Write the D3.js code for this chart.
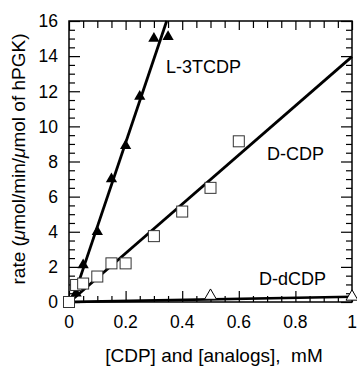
<!DOCTYPE html>
<html><head><meta charset="utf-8">
<script src="https://cdn.jsdelivr.net/npm/d3@7"></script>
<style>
html,body{margin:0;padding:0;background:#fff;}
text{font-family:"Liberation Sans",Arial,Helvetica,sans-serif;fill:#000;}
</style></head>
<body>
<svg id="c" width="357" height="367"></svg>
<script>
// ---- data ----
const l3tcdpX = [0.025, 0.05, 0.1, 0.15, 0.2, 0.25, 0.3, 0.35];
const l3tcdpY = [0.5, 2.1, 4.0, 7.0, 8.9, 11.7, 15.0, 15.1];
const dcdpX = [0, 0.025, 0.05, 0.1, 0.15, 0.2, 0.3, 0.4, 0.5, 0.6];
const dcdpY = [0, 0.97, 1.05, 1.45, 2.2, 2.2, 3.75, 5.15, 6.5, 9.15];
const ddcdpX = [0.5, 1.0];
const ddcdpY = [0.35, 0.3];
// linear fits: [slope, intercept, xStart]
const fitL = [47.8, -0.5, 0.01];
const fitD = [14.0, -0.03, 0.005];
const fitDD = [0.3, 0.0, 0.02];
const xTicks = [0, 0.2, 0.4, 0.6, 0.8, 1];
const xTickLabels = ["0", "0.2", "0.4", "0.6", "0.8", "1"];
const yTicks = [0, 2, 4, 6, 8, 10, 12, 14, 16];
const yTickLabels = ["0", "2", "4", "6", "8", "10", "12", "14", "16"];
const seriesLabels = ["L-3TCDP", "D-CDP", "D-dCDP"];

const svg = d3.select("#c");
const x = d3.scaleLinear().domain([0, 1]).range([69, 352]);
const y = d3.scaleLinear().domain([0, 16]).range([302, 21]);

// minor ticks
const xMinor = d3.range(0, 1.0001, 0.05).filter(v => Math.abs(v*5 - Math.round(v*5)) > 1e-6);
const yMinor = d3.range(0, 16.0001, 0.5).filter(v => Math.abs(v/2 - Math.round(v/2)) > 1e-6);

const g = svg.append("g");
// axes (inward ticks, mirrored)
function addAxis(axis, tr) {
  const a = g.append("g").attr("transform", tr).call(axis);
  a.selectAll("path").remove();
  a.selectAll("line").attr("stroke", "#000").attr("stroke-width", 1.2);
  return a;
}
addAxis(d3.axisBottom(x).tickValues(xTicks).tickSize(-11).tickFormat(""), `translate(0,${y(0)})`);
addAxis(d3.axisBottom(x).tickValues(xMinor).tickSize(-6).tickFormat(""), `translate(0,${y(0)})`);
addAxis(d3.axisTop(x).tickValues(xTicks).tickSize(-9).tickFormat(""), `translate(0,${y(16)})`);
addAxis(d3.axisTop(x).tickValues(xMinor).tickSize(-7).tickFormat(""), `translate(0,${y(16)})`);
addAxis(d3.axisLeft(y).tickValues(yTicks).tickSize(-11).tickFormat(""), `translate(${x(0)},0)`);
addAxis(d3.axisLeft(y).tickValues(yMinor).tickSize(-6).tickFormat(""), `translate(${x(0)},0)`);
addAxis(d3.axisRight(y).tickValues(yTicks).tickSize(-11).tickFormat(""), `translate(${x(1)},0)`);
addAxis(d3.axisRight(y).tickValues(yMinor).tickSize(-6).tickFormat(""), `translate(${x(1)},0)`);

// frame
g.append("rect").attr("x", x(0)).attr("y", y(16)).attr("width", x(1)-x(0)).attr("height", y(0)-y(16))
  .attr("fill", "none").attr("stroke", "#000").attr("stroke-width", 1.5);

// tick labels
g.selectAll(".xl").data(xTicks).enter().append("text")
  .attr("x", d => x(d)).attr("y", 328).attr("text-anchor", "middle")
  .attr("font-size", 17.5).text((d,i) => xTickLabels[i]);
g.selectAll(".yl").data(yTicks).enter().append("text")
  .attr("x", 58).attr("y", d => y(d)).attr("dy", "0.36em").attr("text-anchor", "end")
  .attr("font-size", 17.5).text((d,i) => yTickLabels[i]);

// axis titles
g.append("text").attr("x", 214).attr("y", 362).attr("text-anchor", "middle")
  .attr("font-size", 19).style("white-space", "pre").text("[CDP] and [analogs],  mM");
const yt = g.append("text").attr("transform", "translate(25,159) rotate(-90)")
  .attr("text-anchor", "middle").attr("font-size", 19);
yt.append("tspan").text("rate (");
yt.append("tspan").attr("font-style", "italic").text("μ");
yt.append("tspan").text("mol/min/");
yt.append("tspan").attr("font-style", "italic").text("μ");
yt.append("tspan").text("mol of hPGK)");

// fitted lines
function fitLine(f, sw) {
  const x1 = Math.min(1, (16 - f[1]) / f[0]);
  const pts = [f[2], x1].map(v => [v, f[0]*v + f[1]]);
  g.append("path").attr("d", d3.line().x(d => x(d[0])).y(d => y(d[1]))(pts))
    .attr("stroke", "#000").attr("stroke-width", sw).attr("fill", "none");
}
fitLine(fitL, 2.8);
fitLine(fitD, 2.8);
fitLine(fitDD, 2.6);

// markers
const tri = d3.symbol().type(d3.symbolTriangle).size(55);
const triO = d3.symbol().type(d3.symbolTriangle).size(62);
g.selectAll(".dd").data(ddcdpX).enter().append("path")
  .attr("d", triO).attr("transform", (d,i) => `translate(${x(d)},${y(ddcdpY[i])})`)
  .attr("fill", "#fff").attr("stroke", "#000").attr("stroke-width", 1);
g.selectAll(".lt").data(l3tcdpX).enter().append("path")
  .attr("d", tri).attr("transform", (d,i) => `translate(${x(d)},${y(l3tcdpY[i])})`)
  .attr("fill", "#000");
g.selectAll(".dc").data(dcdpX).enter().append("rect")
  .attr("x", d => x(d) - 5.5).attr("y", (d,i) => y(dcdpY[i]) - 5.5)
  .attr("width", 11).attr("height", 11)
  .attr("fill", "#fff").attr("stroke", "#333").attr("stroke-width", 1);

// series labels
const labPos = [[166, 73], [267, 160], [259, 285]];
g.selectAll(".sl").data(seriesLabels).enter().append("text")
  .attr("x", (d,i) => labPos[i][0]).attr("y", (d,i) => labPos[i][1])
  .attr("font-size", 18).text(d => d);
</script>
</body></html>
